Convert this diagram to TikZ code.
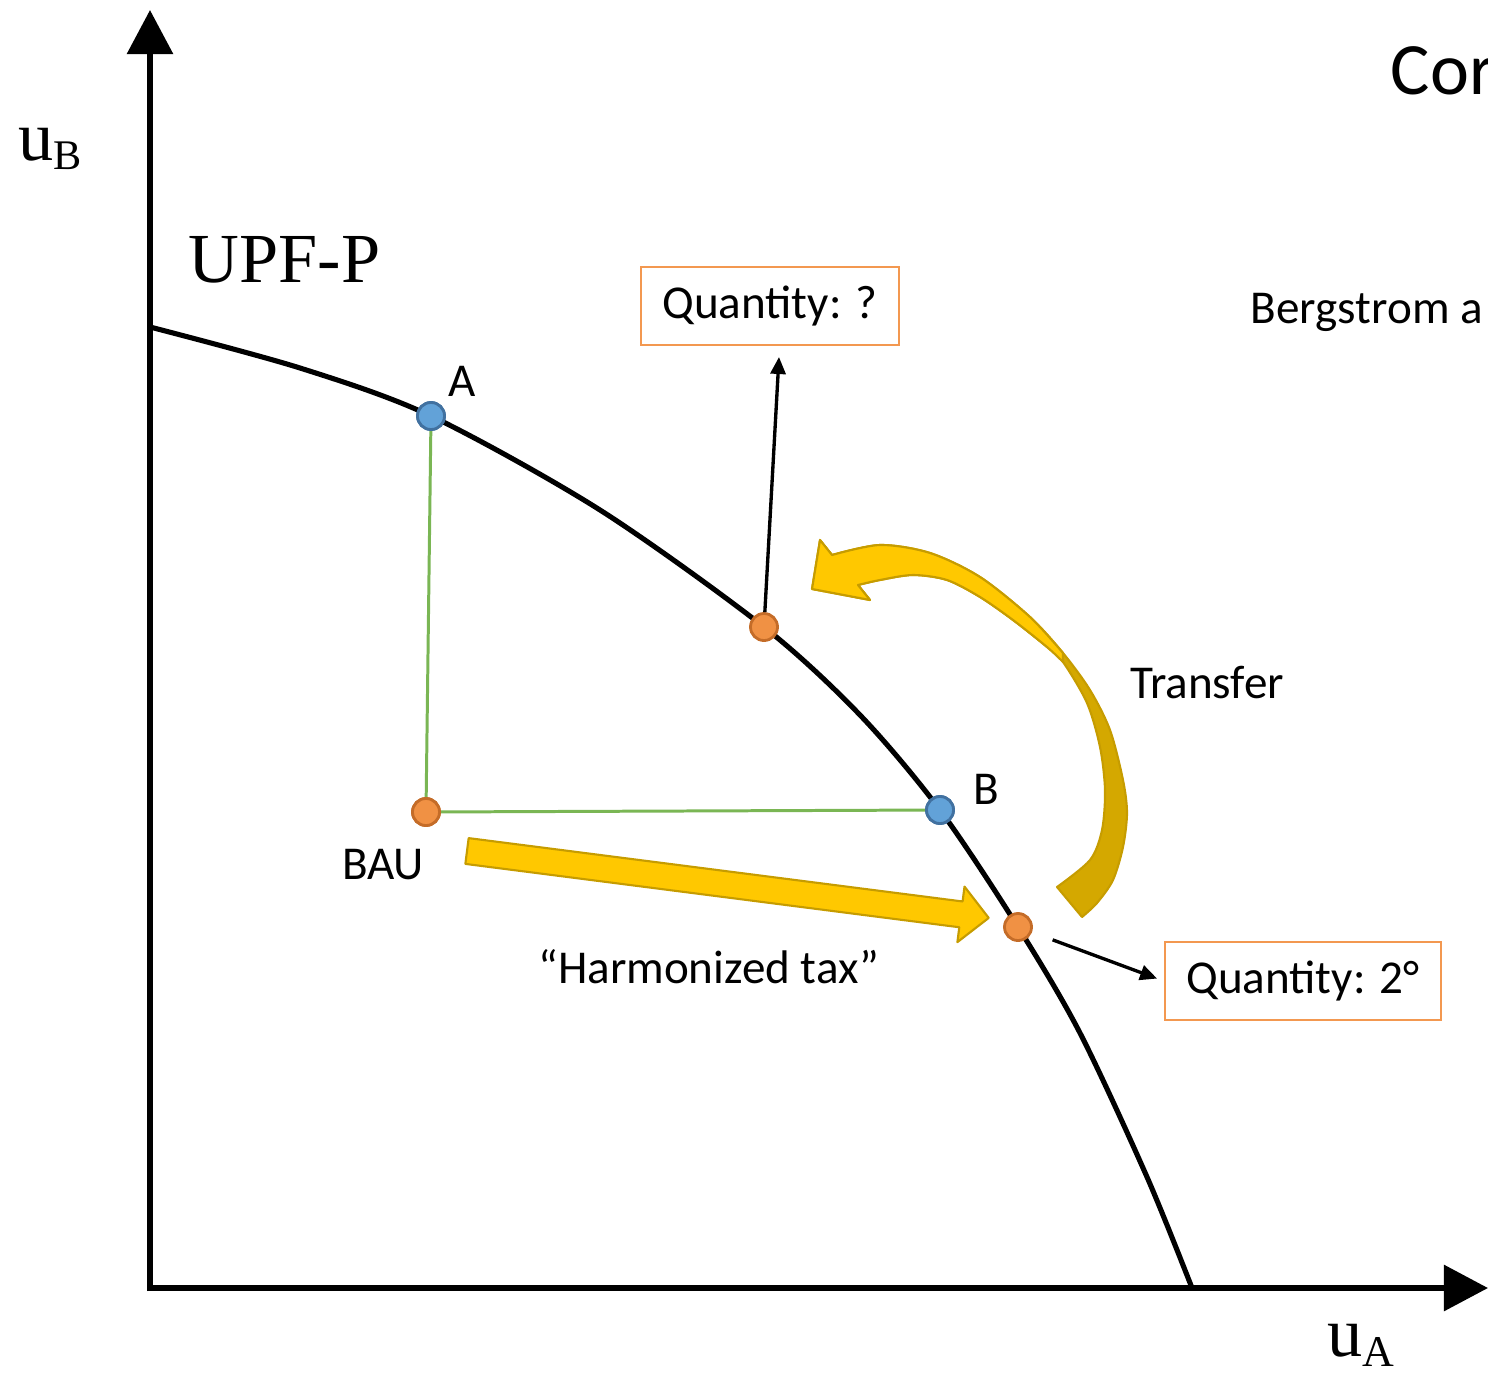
\documentclass[tikz,border=0pt]{standalone}
\usepackage{fontspec}
\setmainfont{Carlito}
\newfontfamily\timesfont{Liberation Serif}
\usepackage{xcolor}
\usetikzlibrary{arrows.meta,positioning}

\definecolor{dotblue}{RGB}{98,162,216}
\definecolor{dotblueedge}{RGB}{65,113,160}
\definecolor{dotorange}{RGB}{240,145,68}
\definecolor{dotorangeedge}{RGB}{196,108,40}
\definecolor{boxorange}{RGB}{243,152,80}
\definecolor{linegreen}{RGB}{122,182,84}
\definecolor{arrowyellow}{RGB}{255,200,0}
\definecolor{arrowgold}{RGB}{212,168,0}
\definecolor{arrowedge}{RGB}{198,156,0}

\begin{document}
\begin{tikzpicture}[x=0.01cm,y=-0.01cm,
  axisline/.style={line width=1.7pt,-{Triangle[length=0.44cm,width=0.45cm]}},
  bluedot/.style={circle,fill=dotblue,draw=dotblueedge,line width=0.8pt,inner sep=0pt,minimum size=0.27cm},
  orangedot/.style={bluedot,fill=dotorange,draw=dotorangeedge},
  qbox/.style={draw=boxorange,line width=0.7pt,minimum height=0.78cm,inner sep=0pt,font=\fontsize{13.4}{16}\selectfont},
  lbl/.style={font=\fontsize{13.4}{16}\selectfont,inner sep=0pt},
  serifbig/.style={font=\fontsize{20}{22}\selectfont\timesfont,inner sep=0pt},
  pointer/.style={line width=0.95pt,-{Triangle[length=0.17cm,width=0.15cm]}},
  bounds/.style={linegreen,line width=0.85pt},
  blockarrow/.style={draw=arrowedge,line width=0.6pt,line join=round}]
\useasboundingbox (0,0) rectangle (1488,1376);

% axes
\coordinate (O) at (150,1288);
\draw[axisline] (150,1291) -- (150,10);
\draw[axisline] (147,1288) -- (1488,1288);
\node[serifbig,anchor=base west] (uB) at (18,160) {u\raisebox{-2.8pt}{\fontsize{12}{12}\selectfont B}};
\node[serifbig,anchor=base west] (uA) at (1327,1356) {u\raisebox{-3pt}{\fontsize{12.5}{13}\selectfont A}};
\node[serifbig,anchor=base west] (upf) at (188,282) {UPF-P};

% utility possibility frontier
\draw[line width=1.45pt] plot[smooth] coordinates {(150,327) (300,368) (431,416) (600,510) (764,627) (860,715) (940,810) (1018,927) (1080,1033) (1147,1177) (1192,1288)};

% green bounds
\node[bluedot] (A) at (431,416) {};
\node[bluedot] (B) at (940,810) {};
\node[orangedot] (bau) at (426,812) {};
\draw[bounds] (A) -- (bau) -- (B);
\node[bluedot] at (A) {};
\node[bluedot] at (B) {};
\node[orangedot] at (bau) {};
\node[orangedot] (qmid) at (764,627) {};
\node[orangedot] (htax) at (1018,927) {};

\node[lbl,anchor=base] (Alab) at (462,396) {A};
\node[lbl,anchor=base] (Blab) at (986,804) {B};
\node[lbl,anchor=base] (baulab) at (383,879) {BAU};

% quantity boxes
\node[qbox,minimum width=2.58cm] (q1) at (770,306) {Quantity: ?};
\node[qbox,minimum width=2.76cm] (q2) at (1303,981) {Quantity: 2°};
\coordinate (q1tip) at (779,357);
\draw[pointer] (qmid) -- (q1tip);
\draw[pointer,shorten <=0.22cm,shorten >=0.07cm] (htax) -- (q2.west);

% harmonized tax arrow
\begin{scope}[shift={(467,851)},rotate=-7.31]
\filldraw[blockarrow,fill=arrowyellow] (0,13) -- (498,13) -- (498,28) -- (526,0) -- (498,-28) -- (498,-13) -- (0,-13) -- cycle;
\end{scope}
\node[lbl,anchor=base] (htaxlab) at (709,983) {“Harmonized tax”};

% transfer arrow
\filldraw[blockarrow,fill=arrowgold] (1082,917) -- plot[smooth] coordinates {(1082,917) (1097,903) (1113,880) (1123,847) (1127,813) (1123,780) (1110,730) (1090,690) (1063,653) (1030,617) (980,577) (930,553) (880,545) (832,555)}
  -- (820,540) -- (812,589) -- (870,600) -- (858,585)
  -- plot[smooth] coordinates {(858,585) (880,580) (913,575) (947,580) (980,597) (1013,620) (1047,647) (1063,662) (1087,703) (1100,747) (1105,790) (1102,830) (1090,860) (1057,887)} -- cycle;
\filldraw[blockarrow,fill=arrowyellow] (1063,653) -- plot[smooth] coordinates {(1063,653) (1030,617) (980,577) (930,553) (880,545) (832,555)}
  -- (820,540) -- (812,589) -- (870,600) -- (858,585)
  -- plot[smooth] coordinates {(858,585) (880,580) (913,575) (947,580) (980,597) (1013,620) (1047,647) (1063,662)} -- cycle;
\node[lbl,anchor=base] (translab) at (1207,698) {Transfer};

% slide text cut at the edge
\node[lbl,anchor=base west] (berg) at (1250,323) {Bergstrom a};
\node[font=\fontsize{21}{24}\selectfont,inner sep=0pt,anchor=base west] (title) at (1390,95) {Cor};
\end{tikzpicture}
\end{document}
